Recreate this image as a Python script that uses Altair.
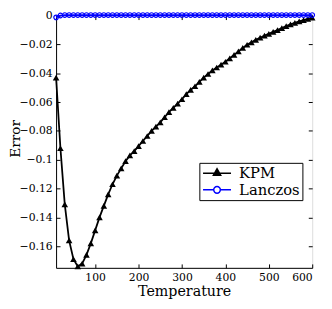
import altair as alt
import pandas as pd

temperature = [10, 20, 30, 40, 50, 60, 70, 80, 90, 100,
               110, 120, 130, 140, 150, 160, 170, 180, 190, 200,
               210, 220, 230, 240, 250, 260, 270, 280, 290, 300,
               310, 320, 330, 340, 350, 360, 370, 380, 390, 400,
               410, 420, 430, 440, 450, 460, 470, 480, 490, 500,
               510, 520, 530, 540, 550, 560, 570, 580, 590, 600]

kpm = [-0.043, -0.092, -0.131, -0.156, -0.169, -0.174, -0.172, -0.166, -0.158, -0.149,
       -0.140, -0.132, -0.124, -0.117, -0.111, -0.106, -0.101, -0.097, -0.094, -0.0905,
       -0.087, -0.0835, -0.080, -0.077, -0.074, -0.0705, -0.067, -0.064, -0.061, -0.058,
       -0.0545, -0.0515, -0.049, -0.046, -0.043, -0.0405, -0.038, -0.036, -0.034, -0.032,
       -0.0296, -0.0272, -0.0248, -0.0224, -0.0202, -0.0185, -0.0168, -0.0153, -0.0139, -0.0126,
       -0.0113, -0.0100, -0.0087, -0.0073, -0.0060, -0.0050, -0.0040, -0.0031, -0.0022, -0.0014]

lanczos = [-0.0012, 0.0001, 0.0004, 0.0004, 0.0004, 0.0004, 0.0004, 0.0004, 0.0004, 0.0004,
           0.0004, 0.0004, 0.0004, 0.0004, 0.0004, 0.0004, 0.0004, 0.0004, 0.0004, 0.0004,
           0.0004, 0.0004, 0.0004, 0.0004, 0.0004, 0.0004, 0.0004, 0.0004, 0.0004, 0.0004,
           0.0004, 0.0004, 0.0004, 0.0004, 0.0004, 0.0004, 0.0004, 0.0004, 0.0004, 0.0004,
           0.0004, 0.0004, 0.0004, 0.0004, 0.0004, 0.0004, 0.0004, 0.0004, 0.0004, 0.0004,
           0.0004, 0.0004, 0.0004, 0.0004, 0.0004, 0.0004, 0.0004, 0.0004, 0.0004, 0.0004]

series_names = ["KPM", "Lanczos"]
x_ticks = [100, 200, 300, 400, 500, 600]
y_ticks = [0, -0.02, -0.04, -0.06, -0.08, -0.1, -0.12, -0.14, -0.16]

W, H = 261, 257
SERIF = "DejaVu Serif"

df_k = pd.DataFrame({"T": temperature, "E": kpm})
df_l = pd.DataFrame({"T": temperature, "E": lanczos})
df_leg = pd.DataFrame({"series": series_names})

x_enc = alt.X("T:Q", scale=alt.Scale(domain=[10, 600], nice=False, zero=False),
              axis=alt.Axis(values=x_ticks, tickCount=50, title="Temperature", grid=True,
                            gridDash=[4, H - 8], gridColor="black", gridWidth=1,
                            ticks=False, labelPadding=4, labelOverlap=False,
                            titleY=17, titleBaseline="top",
                            labelFont=SERIF, labelFontSize=11, labelColor="black",
                            titleFont=SERIF, titleFontSize=14.5, titleFontWeight="normal",
                            titleColor="black", domainColor="black"))
y_enc = alt.Y("E:Q", scale=alt.Scale(domain=[-0.175, 0], nice=False, zero=False),
              axis=alt.Axis(values=y_ticks, tickCount=50, title="Error", format=".2~f", grid=True,
                            gridDash=[4, W - 8], gridColor="black", gridWidth=1,
                            ticks=False, labelPadding=4, labelOverlap=False,
                            titleX=-34, titleY=125, titleAngle=270, titleBaseline="bottom",
                            labelFont=SERIF, labelFontSize=11, labelColor="black",
                            titleFont=SERIF, titleFontSize=14, titleFontWeight="normal",
                            titleColor="black", domainColor="black"))

kpm_line = alt.Chart(df_k).mark_line(color="black", strokeWidth=1.8, clip=False).encode(x=x_enc, y=y_enc)
kpm_pts = alt.Chart(df_k).mark_point(shape="triangle-up", filled=True, color="black",
                                     size=45, opacity=1, clip=False).encode(x="T:Q", y="E:Q")
lan_line = alt.Chart(df_l).mark_line(color="#0000ff", strokeWidth=1.8, clip=False).encode(x="T:Q", y="E:Q")
lan_pts = alt.Chart(df_l).mark_point(shape="circle", filled=False, color="#0000ff",
                                     size=22, strokeWidth=1.2, opacity=1, clip=False).encode(x="T:Q", y="E:Q")

kpm_sym = "M-1.9,0H1.9M-0.5,0.3L0,-0.6L0.5,0.3Z"
lan_sym = "M-1.9,0H-0.45A0.45,0.45,0,1,1,0.45,0H1.9M0.45,0A0.45,0.45,0,1,1,-0.45,0"

legend = alt.Legend(orient="none", legendX=146, legendY=150, title=None,
                    strokeColor="black", fillColor="white", padding=2,
                    symbolSize=225, symbolStrokeWidth=1.5, symbolOffset=7.5,
                    labelOffset=14, labelFont=SERIF, labelFontSize=15, labelColor="black",
                    rowPadding=0, cornerRadius=0)

legend_layer = alt.Chart(df_leg).mark_point(opacity=1, filled=False, strokeWidth=1.5).encode(
    shape=alt.Shape("series:N", scale=alt.Scale(domain=series_names, range=[kpm_sym, lan_sym]), legend=legend),
    stroke=alt.Stroke("series:N", scale=alt.Scale(domain=series_names, range=["black", "#0000ff"]), legend=legend),
    fill=alt.Fill("series:N", scale=alt.Scale(domain=series_names, range=["black", "transparent"]), legend=legend),
).transform_filter("datum.series == 'none'")

chart = alt.layer(kpm_line, kpm_pts, lan_line, lan_pts, legend_layer).properties(
    width=W, height=H,
    padding={"left": 49, "top": 5, "right": 12, "bottom": 31},
    autosize=alt.AutoSizeParams(type="none"),
).configure_view(stroke="black", strokeWidth=1).configure(background="white")

chart.save("out.html", embed_options={"renderer": "svg", "actions": False})
